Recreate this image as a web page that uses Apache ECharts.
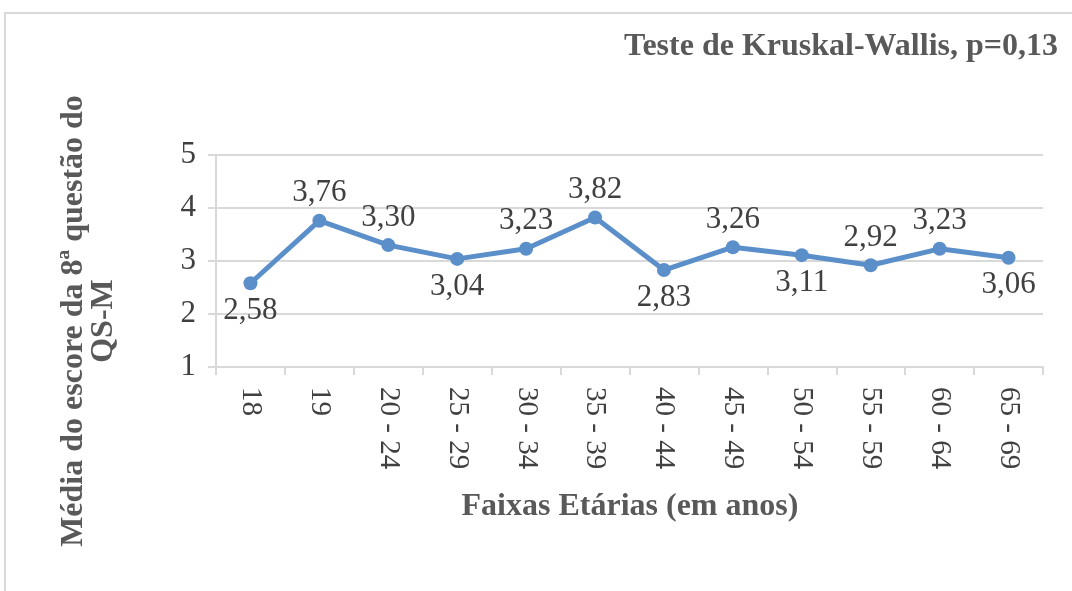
<!DOCTYPE html>
<html>
<head>
<meta charset="utf-8">
<script src="https://cdn.jsdelivr.net/npm/echarts@6/dist/echarts.min.js"></script>
<style>
  html, body { margin: 0; padding: 0; background: #fff; }
  #chart { width: 1072px; height: 591px; }
</style>
</head>
<body>
<div id="chart"></div>
<script>
// data
const faixas = ["18", "19", "20 - 24", "25 - 29", "30 - 34", "35 - 39", "40 - 44", "45 - 49", "50 - 54", "55 - 59", "60 - 64", "65 - 69"];
const medias = [2.58, 3.76, 3.30, 3.04, 3.23, 3.82, 2.83, 3.26, 3.11, 2.92, 3.23, 3.06];
const labelPos = ["bottom", "top", "top", "bottom", "top", "top", "bottom", "top", "bottom", "top", "top", "bottom"];
const yTicks = [1, 2, 3, 4, 5];

const serif = "'Liberation Serif', 'DejaVu Serif', serif";
const lineColor = "#5b8fc9";

let myChart = echarts.init(document.getElementById("chart"));

let pontos = medias.map((v, i) => {
  return {
    value: v,
    label: { position: labelPos[i] },
  };
});

myChart.setOption({
  animation: false,
  backgroundColor: "#fff",
  title: {
    text: "Teste de Kruskal-Wallis, p=0,13",
    right: 9,
    top: 26,
    textStyle: {
      fontFamily: serif,
      fontWeight: "bold",
      fontSize: 32,
      color: "#595959",
    },
  },
  grid: {
    left: 216,
    right: 29,
    top: 155,
    bottom: 224,
  },
  xAxis: {
    type: "category",
    data: faixas,
    boundaryGap: true,
    axisLine: { lineStyle: { color: "#d9d9d9", width: 2 } },
    axisTick: { show: true, length: 8, lineStyle: { color: "#d9d9d9", width: 2 } },
    axisLabel: {
      rotate: -90,
      margin: 20,
      fontFamily: serif,
      fontSize: 29,
      color: "#404040",
    },
  },
  yAxis: {
    type: "value",
    min: yTicks[0],
    max: yTicks[yTicks.length - 1],
    interval: 1,
    axisLine: { show: true, lineStyle: { color: "#d9d9d9", width: 2 } },
    axisTick: { show: true, length: 8, lineStyle: { color: "#d9d9d9", width: 2 } },
    splitLine: { lineStyle: { color: "#d9d9d9", width: 2 } },
    axisLabel: {
      margin: 20,
      fontFamily: serif,
      fontSize: 31,
      color: "#404040",
    },
  },
  series: [
    {
      type: "line",
      data: pontos,
      symbol: "circle",
      symbolSize: 14,
      lineStyle: { color: lineColor, width: 5 },
      itemStyle: { color: lineColor },
      label: {
        show: true,
        distance: 5,
        fontFamily: serif,
        fontSize: 31,
        color: "#404040",
        formatter: (p) => p.value.toFixed(2).replace(".", ","),
      },
    },
  ],
  graphic: [
    {
      type: "rect",
      shape: { x: 5, y: 13, width: 1200, height: 700 },
      style: { fill: "none", stroke: "#d9d9d9", lineWidth: 2 },
      silent: true,
    },
    {
      type: "text",
      x: 89,
      y: 321,
      rotation: Math.PI / 2,
      style: {
        text: "Média do escore da 8ª questão do\nQS-M",
        font: "bold 32px " + serif,
        fill: "#595959",
        align: "center",
        verticalAlign: "middle",
        lineHeight: 30,
      },
    },
    {
      type: "text",
      x: 630,
      y: 507,
      style: {
        text: "Faixas Etárias (em anos)",
        font: "bold 32px " + serif,
        fill: "#595959",
        align: "center",
        verticalAlign: "middle",
      },
    },
  ],
});

window.onresize = function () {
  myChart.resize();
};
</script>
</body>
</html>
